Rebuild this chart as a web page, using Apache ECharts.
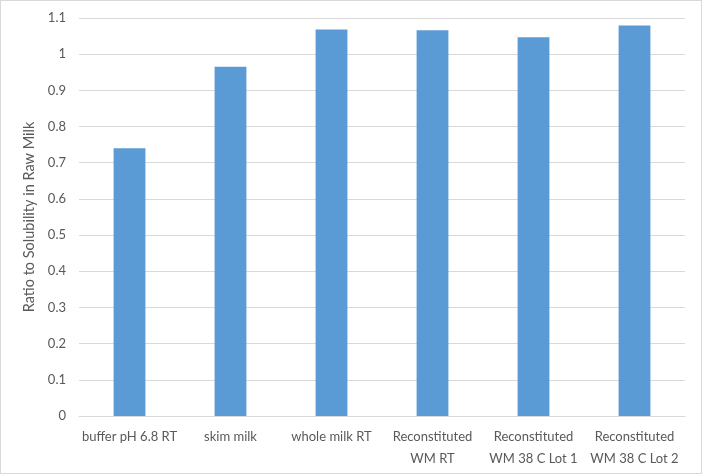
<!DOCTYPE html>
<html>
<head>
<meta charset="utf-8">
<script src="https://cdn.jsdelivr.net/npm/echarts@6/dist/echarts.min.js"></script>
<style>
html,body{margin:0;padding:0;background:#fff;}
#wrap{position:absolute;left:0;top:0;width:700px;height:472px;border:1px solid #d9d9d9;}
#chart{width:700px;height:472px;}
</style>
</head>
<body>
<div id="wrap"><div id="chart"></div></div>
<script>
const categories = ["buffer pH 6.8 RT", "skim milk", "whole milk RT", "Reconstituted\nWM RT", "Reconstituted\nWM 38 C Lot 1", "Reconstituted\nWM 38 C Lot 2"];
const ratioValues = [0.740, 0.965, 1.068, 1.066, 1.047, 1.079];
const yAxisTitle = "Ratio to Solubility in Raw Milk";

const chart = echarts.init(document.getElementById('chart'), null, {renderer: 'canvas'});
const font = 'Lato, "Open Sans", sans-serif';
chart.setOption({
  animation: false,
  grid: {left: 78, right: 16, top: 17, bottom: 57},
  xAxis: {
    type: 'category',
    data: categories,
    axisLine: {show: true, lineStyle: {color: '#d9d9d9', width: 1}},
    axisTick: {show: false},
    axisLabel: {color: '#595959', fontSize: 13, fontFamily: font, margin: 10, lineHeight: 22, interval: 0}
  },
  yAxis: {
    type: 'value',
    min: 0, max: 1.1, interval: 0.1,
    name: yAxisTitle,
    nameLocation: 'middle',
    nameGap: 35,
    nameTextStyle: {color: '#595959', fontSize: 14.5, fontFamily: font},
    axisLine: {show: false},
    axisTick: {show: false},
    splitLine: {lineStyle: {color: '#d9d9d9', width: 1}},
    axisLabel: {color: '#595959', fontSize: 13, fontFamily: font, margin: 13,
      formatter: v => String(Math.round(v * 10) / 10)}
  },
  series: [{
    type: 'bar',
    data: ratioValues,
    barWidth: '31.5%',
    itemStyle: {color: '#5b9bd5'}
  }]
});
</script>
</body>
</html>
